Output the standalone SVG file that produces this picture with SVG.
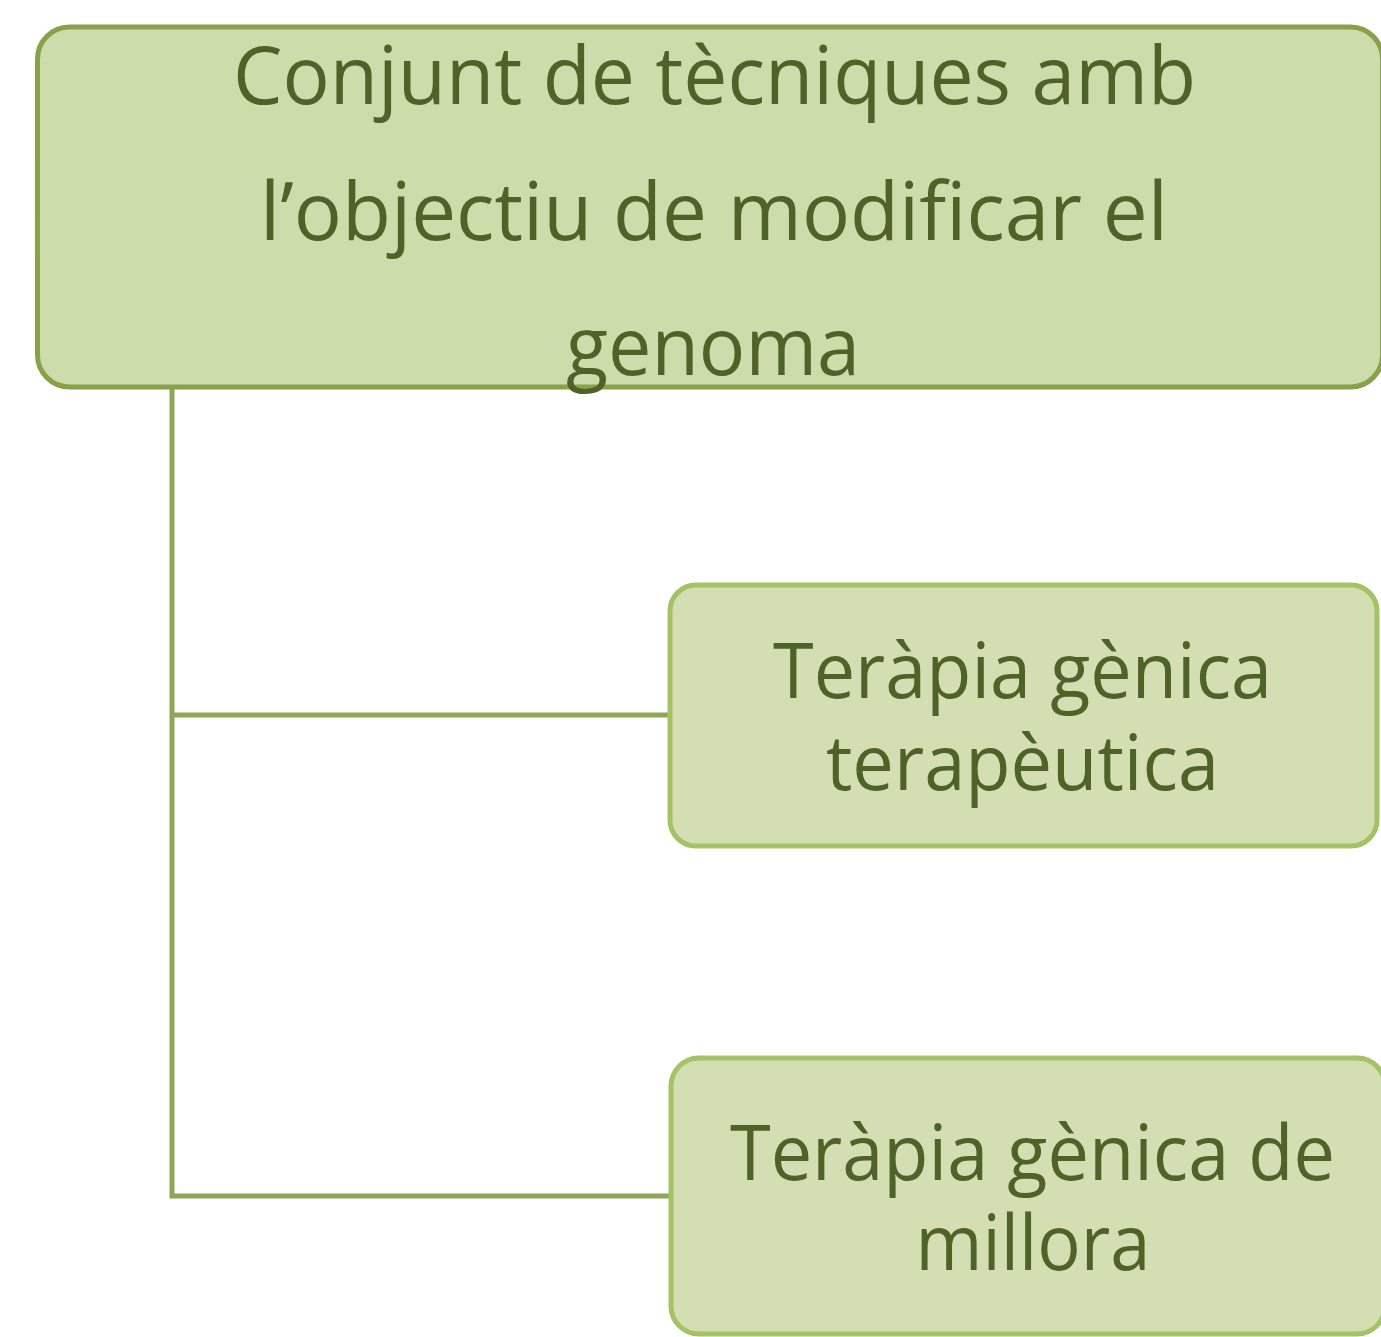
<svg xmlns="http://www.w3.org/2000/svg" width="1381" height="1337" viewBox="0 0 1381 1337">
<style>
.top{fill:#cddcab;stroke:#8aa14b;stroke-width:5}
.child{fill:#d3dfb3;stroke:#a6c267;stroke-width:5}
.conn{fill:none;stroke:#8fa657;stroke-width:5}
text{font-family:"Open Sans","Noto Sans",sans-serif;fill:#4f6228;text-anchor:middle}
.t1{font-size:81px}
.t2{font-size:76px}
</style>
<rect width="1381" height="1337" fill="#ffffff"/>
<g id="connectors">
<path class="conn" d="M172 387 V1196 H671"/>
<path class="conn" d="M172 715 H670"/>
</g>
<g id="node-root">
<rect class="top" x="37.5" y="27" width="1345" height="360" rx="32"/>
<text class="t1" x="714.5" y="104" textLength="963" lengthAdjust="spacingAndGlyphs">Conjunt de tècniques amb</text>
<text class="t1" x="714" y="240" textLength="908" lengthAdjust="spacingAndGlyphs">l’objectiu de modificar el</text>
<text class="t1" x="713" y="375" textLength="294" lengthAdjust="spacingAndGlyphs">genoma</text>
</g>
<g id="node-terapeutica">
<rect class="child" x="670" y="585" width="707" height="261" rx="26"/>
<text class="t2" x="1022.5" y="698" textLength="499" lengthAdjust="spacingAndGlyphs">Teràpia gènica</text>
<text class="t2" x="1022.5" y="790" textLength="393" lengthAdjust="spacingAndGlyphs">terapèutica</text>
</g>
<g id="node-millora">
<rect class="child" x="671" y="1058" width="714" height="276" rx="28"/>
<text class="t2" x="1032.5" y="1180" textLength="605" lengthAdjust="spacingAndGlyphs">Teràpia gènica de</text>
<text class="t2" x="1033" y="1270" textLength="235" lengthAdjust="spacingAndGlyphs">millora</text>
</g>
</svg>
